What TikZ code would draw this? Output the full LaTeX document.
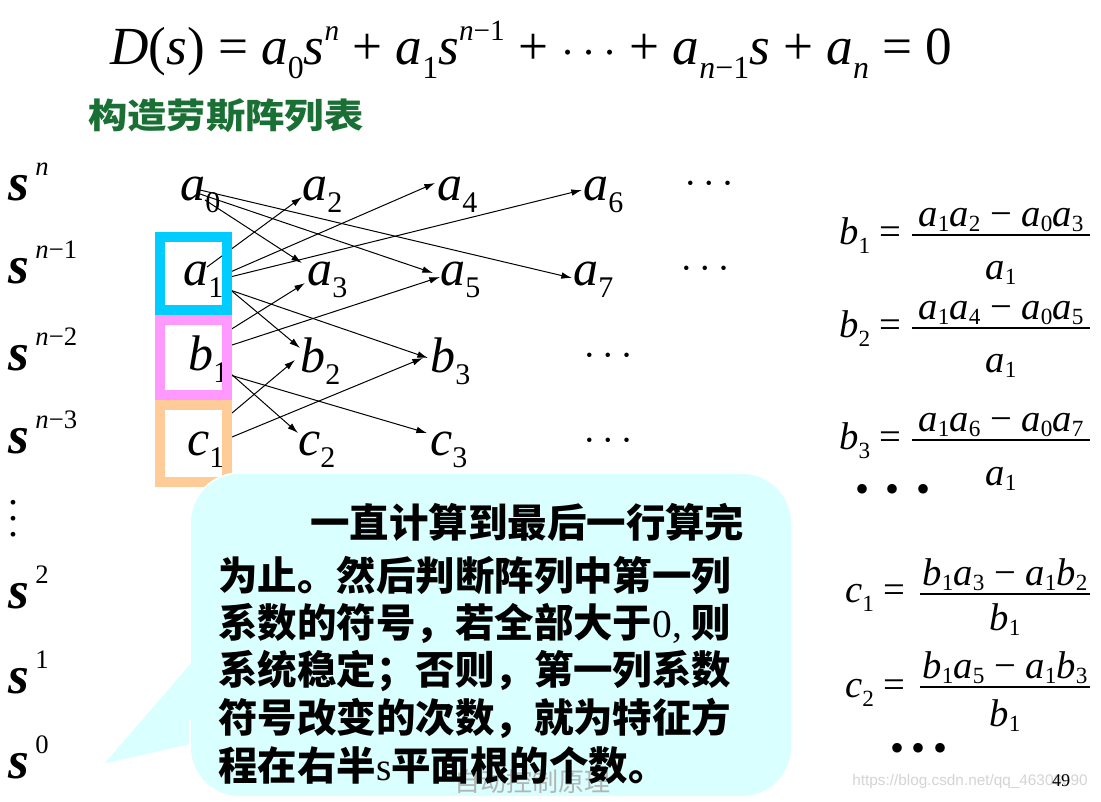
\documentclass[tikz,border=0pt]{standalone}
\usepackage{fontspec}
\setmainfont{Liberation Serif}
\newfontfamily\cjk{Noto Sans CJK SC}
\newfontfamily\wsans{Liberation Sans}
\usetikzlibrary{arrows.meta}
\definecolor{boxcyan}{HTML}{00CCFF}
\definecolor{boxpink}{HTML}{FF99FF}
\definecolor{boxorange}{HTML}{FFCC99}
\definecolor{callout}{HTML}{D9FFFF}
\definecolor{titlegreen}{HTML}{1A7034}
\definecolor{wmgray}{HTML}{B4B4B4}
\definecolor{urlgray}{HTML}{D4D4D4}
\newcommand\myv[2]{\textit{#1}\raisebox{-0.25em}{\scalebox{0.6}{#2}}}
\newcommand\myf[2]{\textit{#1}\raisebox{-0.13em}{\scalebox{0.6}{#2}}}
\newcommand\mysp[2]{\raisebox{#1}{\scalebox{0.55}{#2}}}
\newcommand\slab[1]{{\bfseries\itshape s}\kern0.12em\raisebox{0.46em}{\scalebox{0.5}{\mdseries\upshape #1}}}
\newcommand\mydots{{\fontsize{14}{14}\selectfont •\hspace{9pt}•\hspace{9pt}•}}
\begin{document}
\begin{tikzpicture}[x=0.75pt,y=-0.75pt,
  el/.style={anchor=base west, inner sep=0pt, font=\fontsize{37.5}{40}\selectfont},
  sl/.style={anchor=base west, inner sep=0pt, font=\fontsize{40}{44}\selectfont},
  fm/.style={anchor=base west, inner sep=0pt, font=\fontsize{29}{32}\selectfont},
  fn/.style={anchor=base, inner sep=0pt, font=\fontsize{29}{32}\selectfont},
  fbar/.style={line width=1.5pt},
  dts/.style={anchor=center, inner sep=0pt},
  ar/.style={-{Latex[length=8pt,width=5pt]}, line width=0.75pt},
  frame/.style={line width=7.5pt},
  ctext/.style={anchor=base west, inner sep=0pt, font=\cjk\bfseries\fontsize{29.6}{32}\selectfont}]
\useasboundingbox (0,0) rectangle (1101,801);
\fill[white] (0,0) rectangle (1101,801);

% title equation
\node[anchor=north west, inner sep=0pt, font=\fontsize{45}{50}\selectfont] (eq) at (110,21)
 {\resizebox*{631.5pt}{43pt}{\textit{D}(\textit{s}) = \myv{a}{0}\textit{s}\mysp{0.45em}{\textit{n}} + \myv{a}{1}\textit{s}\mysp{0.45em}{\textit{n}−1} + \scalebox{1.6}{$\cdots$} + \textit{a}\raisebox{-0.25em}{\scalebox{0.6}{\textit{n}−1}}\textit{s} + \myv{a}{\textit{n}} = 0}};

\node[anchor=base west, inner sep=0pt, text=titlegreen, font=\cjk\bfseries\fontsize{29.5}{32}\selectfont] (ttl) at (88,128) {\scalebox{1}[0.88]{构造劳斯阵列表}};

% row labels
\node[sl] (s0) at (8,200) {\slab{\textit{n}}};
\node[sl] (s1) at (8,283) {\slab{\textit{n}−1}};
\node[sl] (s2) at (8,370) {\slab{\textit{n}−2}};
\node[sl] (s3) at (8,453) {\slab{\textit{n}−3}};
\node[anchor=center, inner sep=0pt] (vd) at (13,507) {\scalebox{3}{$\vdots$}};
\node[sl] (s4) at (8,608) {\slab{2}};
\node[sl] (s5) at (8,693) {\slab{1}};
\node[sl] (s6) at (8,778) {\slab{0}};

% array elements
\node[el] (a0) at (180,200) {\myv{a}{0}};
\node[el] (a2) at (302,200) {\myv{a}{2}};
\node[el] (a4) at (437,200) {\myv{a}{4}};
\node[el] (a6) at (583,200) {\myv{a}{6}};
\node[dts] (d1) at (709,185) {\mydots};
\node[el] (a1) at (183,285) {\myv{a}{1}};
\node[el] (a3) at (307,285) {\myv{a}{3}};
\node[el] (a5) at (440,285) {\myv{a}{5}};
\node[el] (a7) at (573,285) {\myv{a}{7}};
\node[dts] (d2) at (705,270) {\mydots};
\node[el] (b1) at (188,370) {\myv{b}{1}};
\node[el] (b2) at (300,372) {\myv{b}{2}};
\node[el] (b3) at (430,372) {\myv{b}{3}};
\node[dts] (d3) at (608,357) {\mydots};
\node[el] (c1) at (187,455) {\myv{c}{1}};
\node[el] (c2) at (298,455) {\myv{c}{2}};
\node[el] (c3) at (430,455) {\myv{c}{3}};
\node[dts] (d4) at (608,442) {\mydots};

% arrows
\draw[ar] ([shift={(25,0)}]a0.base west) -- ([shift={(-5,-22)}]a3.base west);
\draw[ar] ([shift={(20,-6)}]a0.base west) -- ([shift={(-7,-12)}]a5.base west);
\draw[ar] ([shift={(20,-10)}]a0.base west) -- ([shift={(-1,-7)}]a7.base west);
\draw[ar] ([shift={(24,-18)}]a1.base west) -- ([shift={(0,-3)}]a2.base west);
\draw[ar] ([shift={(45,-12)}]a1.base west) -- ([shift={(-2,-17)}]a4.base west);
\draw[ar] ([shift={(47,-8)}]a1.base west) -- ([shift={(-1,-10)}]a6.base west);
\draw[ar] ([shift={(44,2)}]a1.base west) -- ([shift={(0,-24)}]b2.base west);
\draw[ar] ([shift={(47,5)}]a1.base west) -- ([shift={(-2,-14)}]b3.base west);
\draw[ar] ([shift={(42,-40)}]b1.base west) -- ([shift={(-2,-2)}]a3.base west);
\draw[ar] ([shift={(44,-25)}]b1.base west) -- ([shift={(0,-8)}]a5.base west);
\draw[ar] ([shift={(42,3)}]b1.base west) -- ([shift={(0,-22)}]c2.base west);
\draw[ar] ([shift={(42,5)}]b1.base west) -- ([shift={(-3,-22)}]c3.base west);
\draw[ar] ([shift={(45,-42)}]c1.base west) -- ([shift={(-5,-12)}]b2.base west);
\draw[ar] ([shift={(45,-18)}]c1.base west) -- ([shift={(-7,-14)}]b3.base west);

% coloured frames
\draw[frame, boxcyan] (160,237) rectangle (227,310);
\draw[frame, boxpink] (160,320) rectangle (227,395);
\draw[frame, boxorange] (160,405) rectangle (227,482);

% formulas on the right
\node[fm] (lb1) at (839,244) {\myv{b}{1} =};
\node[fn] (nb1) at (1001,226) {\myf{a}{1}\myf{a}{2} − \myf{a}{0}\myf{a}{3}};
\draw[fbar] (912,235) -- (1090,235);
\node[fn] (db1) at (1001,279) {\myf{a}{1}};

\node[fm] (lb2) at (839,337) {\myv{b}{2} =};
\node[fn] (nb2) at (1001,319) {\myf{a}{1}\myf{a}{4} − \myf{a}{0}\myf{a}{5}};
\draw[fbar] (912,328) -- (1090,328);
\node[fn] (db2) at (1001,372) {\myf{a}{1}};

\node[fm] (lb3) at (839,449) {\myv{b}{3} =};
\node[fn] (nb3) at (1001,431) {\myf{a}{1}\myf{a}{6} − \myf{a}{0}\myf{a}{7}};
\draw[fbar] (912,440) -- (1090,440);
\node[fn] (db3) at (1001,485) {\myf{a}{1}};

\node[anchor=center, inner sep=0pt, font=\fontsize{30}{30}\selectfont] (bd) at (893,493) {•\hspace{0.42em}•\hspace{0.42em}•};

\node[fm] (lc1) at (845,602) {\myv{c}{1} =};
\node[fn] (nc1) at (1005,585) {\myf{b}{1}\myf{a}{3} − \myf{a}{1}\myf{b}{2}};
\draw[fbar] (920,594) -- (1090,594);
\node[fn] (dc1) at (1005,630) {\myf{b}{1}};

\node[fm] (lc2) at (845,697) {\myv{c}{2} =};
\node[fn] (nc2) at (1005,678) {\myf{b}{1}\myf{a}{5} − \myf{a}{1}\myf{b}{3}};
\draw[fbar] (920,687) -- (1090,687);
\node[fn] (dc2) at (1005,726) {\myf{b}{1}};

\node[anchor=center, inner sep=0pt, font=\fontsize{30}{30}\selectfont] (cd) at (919,752) {•\hspace{0.2em}•\hspace{0.2em}•};

% callout
\path[fill=callout, draw=white, line width=1.2pt] (102,765) -- (190,663) -- (190,640) [rounded corners=37.5pt] -- (190,473) -- (792,473) -- (792,797) -- (190,797) -- (190,770) [sharp corners] -- (190,745) -- cycle;

\node[anchor=center, inner sep=0pt, text=wmgray, font=\cjk\fontsize{19.5}{22}\selectfont] (wm) at (532,782) {自动控制原理};

\node[ctext] (l1) at (310,537) {一直计算到最后一行算完};
\node[ctext] (l2) at (218,590) {为止。然后判断阵列中第一列};
\node[ctext] (l3) at (218,637) {系数的符号，若全部大于{\rmfamily\mdseries 0, }则};
\node[ctext] (l4) at (218,684) {系统稳定；否则，第一列系数};
\node[ctext] (l5) at (218,732) {符号改变的次数，就为特征方};
\node[ctext] (l6) at (218,780) {程在右半{\rmfamily\mdseries s}平面根的个数。};

% footer
\node[anchor=center, inner sep=0pt, text=urlgray, font=\wsans\fontsize{11.5}{13}\selectfont] (url) at (970,782) {https://blog.csdn.net/qq\_46306090};
\node[anchor=center, inner sep=0pt, font=\fontsize{13.5}{15}\selectfont] (pg) at (1061,781) {49};
\end{tikzpicture}
\end{document}
